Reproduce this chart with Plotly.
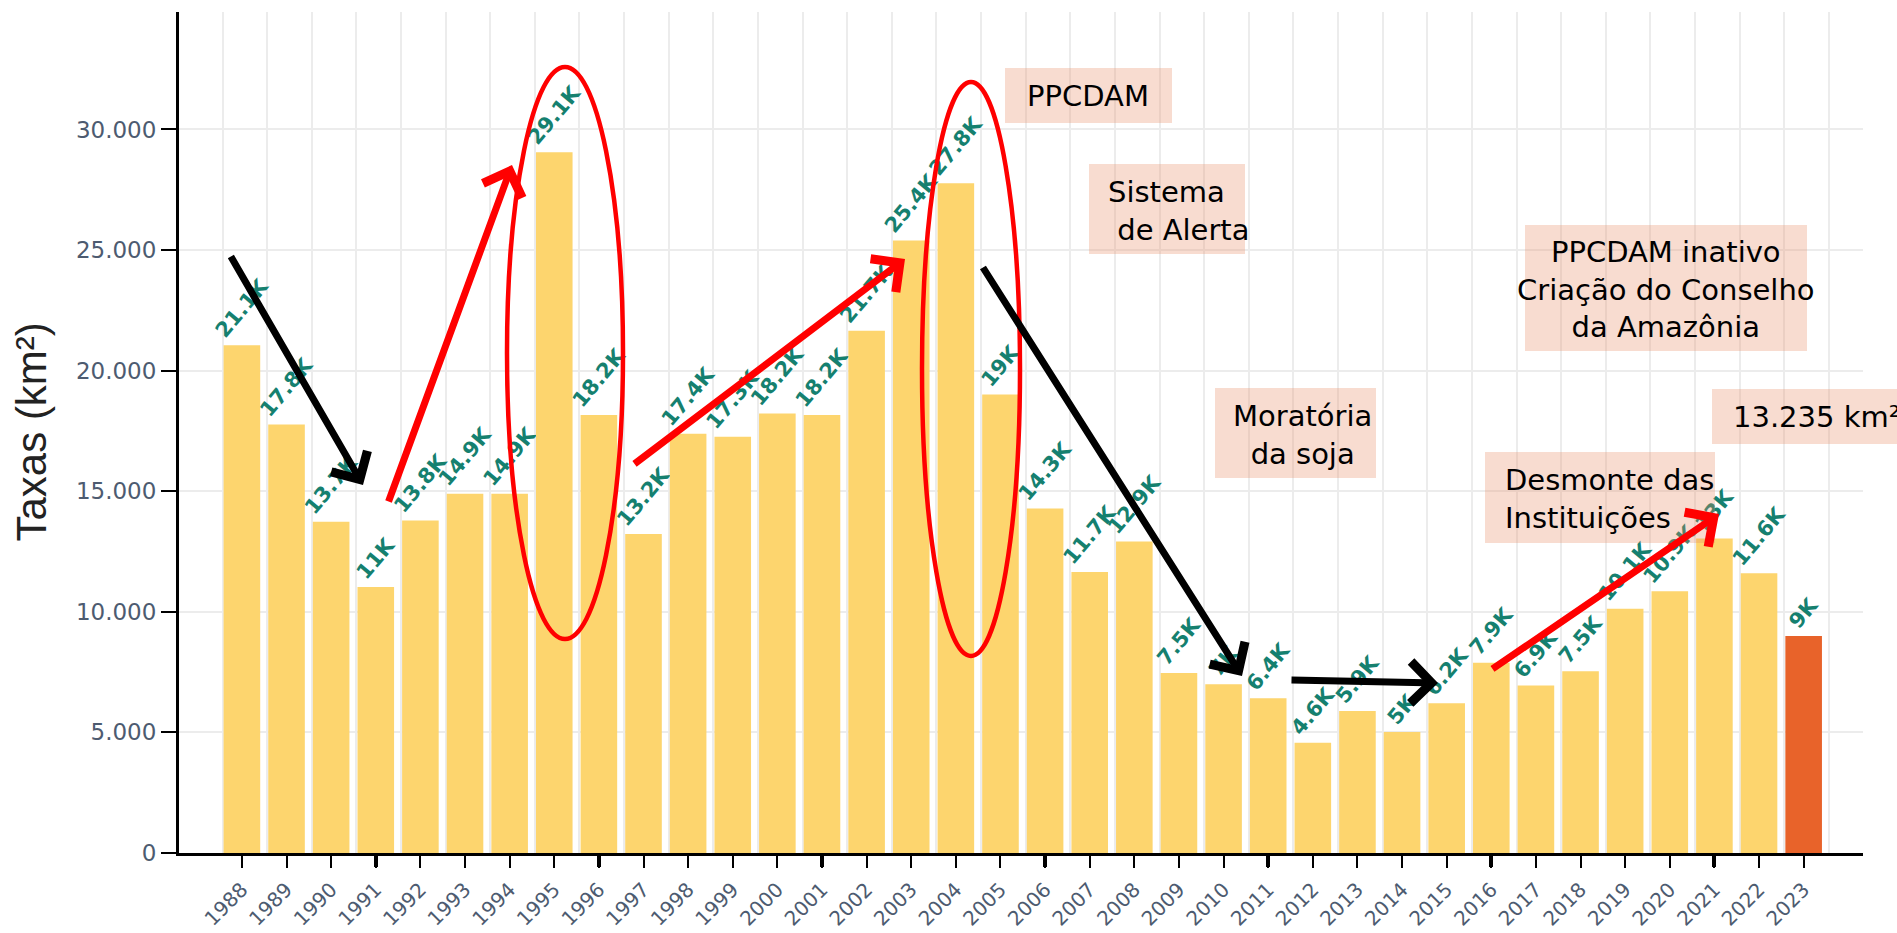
import plotly.graph_objects as go

# ---------------- data ----------------
years = list(range(1988, 2024))
taxas = [21050, 17770, 13730, 11030, 13786, 14896, 14896, 29059, 18161, 13227,
         17383, 17259, 18226, 18165, 21651, 25396, 27772, 19014, 14286, 11651,
         12911, 7464, 7000, 6418, 4571, 5891, 5012, 6207, 7893, 6947,
         7536, 10129, 10851, 13038, 11594, 9001]
rotulos = ["21.1K", "17.8K", "13.7K", "11K", "13.8K", "14.9K", "14.9K", "29.1K", "18.2K", "13.2K",
           "17.4K", "17.3K", "18.2K", "18.2K", "21.7K", "25.4K", "27.8K", "19K", "14.3K", "11.7K",
           "12.9K", "7.5K", "7K", "6.4K", "4.6K", "5.9K", "5K", "6.2K", "7.9K", "6.9K",
           "7.5K", "10.1K", "10.9K", "13K", "11.6K", "9K"]
cores = ["#FDD56E"] * (len(years) - 1) + ["#E8632A"]
y_ticks = [0, 5000, 10000, 15000, 20000, 25000, 30000]
bold_tick_years = [1991, 1996, 2001, 2006, 2011, 2016, 2021]
grid_years = years + [2024]

caixas = [
    ("PPCDAM", "center"),
    ("Sistema<br>\u00a0de Alerta", "left"),
    ("PPCDAM inativo<br>Criação do Conselho<br>da Amazônia", "center"),
    ("Moratória<br>da soja", "center"),
    ("Desmonte das<br>Instituições", "left"),
    ("13.235 km²", "left"),
]

# ---------------- layout geometry (pixels) ----------------
FW, FH = 1897, 933
L, R, T, B = 179, 1863, 12, 853
PW, PH = R - L, B - T
X_RANGE = [1986.59, 2024.33]
Y_RANGE = [0, 34870]


def px(X):
    return (X - L) / PW


def py(Y):
    return (B - Y) / PH


fig = go.Figure()
fig.add_trace(go.Bar(
    x=years, y=taxas, width=0.82,
    marker=dict(color=cores, line=dict(width=0)),
    text=rotulos, textposition="outside", textangle=-50,
    textfont=dict(family="DejaVu Sans", size=21, color="#15806f", weight="bold"),
    constraintext="none", cliponaxis=False, showlegend=False, hoverinfo="skip",
))
fig.add_trace(go.Scatter(x=[None], y=[None], xaxis="x2", yaxis="y",
                         showlegend=False, hoverinfo="skip"))

TICKFONT_COLOR = "#4d5b70"
GRID = "#ececec"

fig.update_layout(
    template="none",
    width=FW, height=FH,
    margin=dict(l=L, r=FW - R, t=T, b=FH - B, pad=0, autoexpand=False),
    paper_bgcolor="white", plot_bgcolor="white",
    separators=",.",
    bargap=0.18,
    xaxis=dict(
        range=X_RANGE, tickmode="array", tickvals=years, ticktext=[str(y) for y in years],
        tickangle=-45, ticks="outside", ticklen=12, tickwidth=2, tickcolor="black",
        ticklabelstandoff=2,
        showline=True, linecolor="black", linewidth=3, showgrid=False, zeroline=False,
        tickfont=dict(family="DejaVu Sans", size=20, color=TICKFONT_COLOR),
        minor=dict(tickmode="array", tickvals=[g - 0.435 for g in grid_years], showgrid=True,
                   gridcolor=GRID, gridwidth=2, ticks=""),
    ),
    xaxis2=dict(
        range=X_RANGE, overlaying="x", anchor="y", side="bottom",
        tickmode="array", tickvals=bold_tick_years, ticks="outside", ticklen=13, tickwidth=4,
        tickcolor="black", showticklabels=False, showgrid=False, showline=False, zeroline=False,
    ),
    yaxis=dict(
        range=Y_RANGE, tickmode="array", tickvals=y_ticks, tickformat=",.0f",
        ticks="outside", ticklen=15, tickwidth=2, tickcolor="black",
        showline=True, linecolor="black", linewidth=3, zeroline=False,
        showgrid=True, gridcolor=GRID, gridwidth=2,
        tickfont=dict(family="DejaVu Sans", size=23, color=TICKFONT_COLOR),
    ),
)

# ---------------- annotation boxes ----------------
box_rects = [(1005, 68, 1172, 123), (1089, 164, 1245, 254), (1525, 225, 1807, 351),
             (1215, 388, 1376, 478), (1485, 452, 1715, 543), (1712, 389, 1960, 444)]
text_pos = [(1088, 96), (1106, 211), (1666, 289), (1302, 435), (1503, 499), (1731, 417)]

shapes = []
for (x0, y0, x1, y1) in box_rects:
    shapes.append(dict(type="rect", xref="paper", yref="paper",
                       x0=px(x0), x1=px(x1), y0=py(y1), y1=py(y0),
                       fillcolor="rgba(232,140,100,0.30)", line=dict(width=0), layer="above"))
for (x0, y0, x1, y1) in [(507, 67, 623, 639), (922, 82, 1020, 656)]:
    shapes.append(dict(type="circle", xref="paper", yref="paper",
                       x0=px(x0), x1=px(x1), y0=py(y1), y1=py(y0),
                       line=dict(color="#ff0000", width=4.5), layer="above"))

annotations = []
for (txt, al), (tx, ty) in zip(caixas, text_pos):
    annotations.append(dict(text=txt, xref="paper", yref="paper", x=px(tx), y=py(ty),
                            xanchor="center" if al == "center" else "left", yanchor="middle",
                            align=al, showarrow=False,
                            font=dict(family="DejaVu Sans", size=29, color="black")))

annotations.append(dict(text="Taxas (km²)", xref="paper", yref="paper", x=px(31), y=0.5,
                        xanchor="center", yanchor="middle", textangle=-90, showarrow=False,
                        font=dict(family="Liberation Sans, Arial", size=42, color="#222")))

setas = [((230, 255), (363, 485), "black"),
         ((388, 503), (512, 165), "#ff0000"),
         ((633, 465), (905, 259), "#ff0000"),
         ((982, 266), (1242, 676), "black"),
         ((1290, 680), (1438, 683), "black"),
         ((1491, 670), (1719, 514), "#ff0000")]
for tail, tip, c in setas:
    annotations.append(dict(text="", xref="paper", yref="paper", x=px(tip[0]), y=py(tip[1]),
                            ax=tail[0] - tip[0], ay=tail[1] - tip[1], axref="pixel", ayref="pixel",
                            showarrow=True, arrowhead=4, arrowsize=1.15, arrowwidth=7,
                            arrowcolor=c, standoff=0))

fig.update_layout(shapes=shapes, annotations=annotations)

fig.write_html("out.html", config={"displayModeBar": False},
               post_script="document.body.style.margin='0';document.body.style.overflow='hidden';")
